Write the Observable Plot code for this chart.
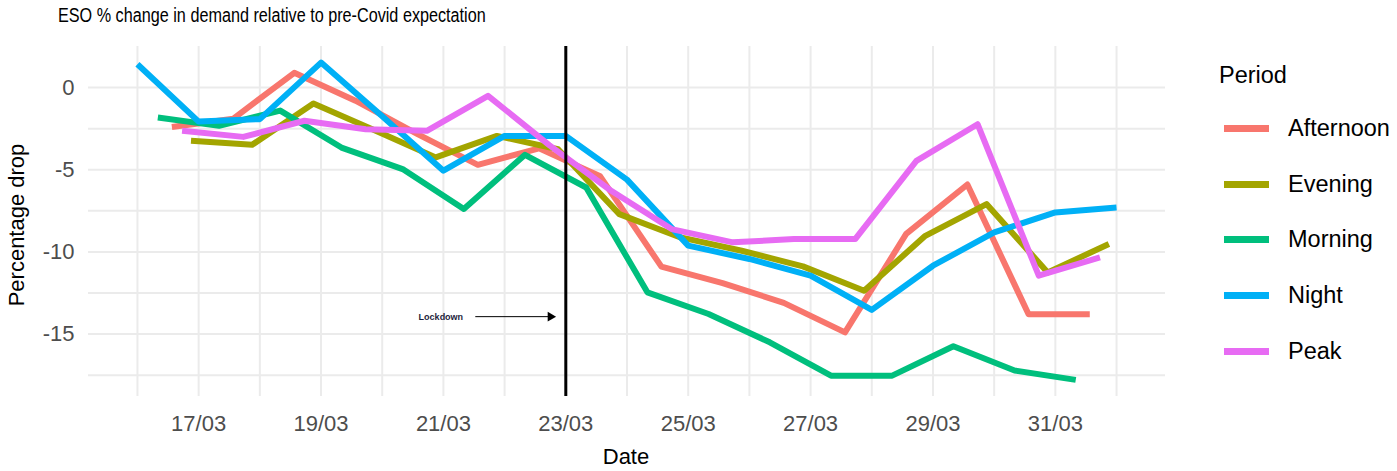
<!DOCTYPE html>
<html><head><meta charset="utf-8">
<script src="https://cdn.jsdelivr.net/npm/d3@7"></script>
<script src="https://cdn.jsdelivr.net/npm/@observablehq/plot@0.6"></script>
<style>
body{margin:0;background:#fff;font-family:"Liberation Sans",Arial,sans-serif;}
#wrap{position:relative;width:1397px;height:471px;overflow:hidden;background:#fff}
#title{height:34px;line-height:31px;padding-left:58px;font-size:20px;color:#000;white-space:nowrap;transform:scaleX(0.81);transform-origin:58px 0}
#chart svg{display:block}
.abs{position:absolute;white-space:nowrap;color:#000}
#xlab{left:526px;width:200px;top:444px;line-height:26px;text-align:center;font-size:22px}
#ylab{left:-133px;width:300px;top:212px;line-height:26px;text-align:center;font-size:22px;transform:rotate(-90deg)}
.lg{position:absolute;font-size:23.5px;line-height:28px;color:#000}
.key{position:absolute;height:7px;width:45px}
</style></head><body>
<div id="wrap">
<div id="title">ESO % change in demand relative to pre-Covid expectation</div>
<div id="chart"></div>
<div id="xlab" class="abs">Date</div>
<div id="ylab" class="abs">Percentage drop</div>
<div id="legend"></div>
</div>
<script>
// ---- data ----
const dayLabels = ["2020-03-16","2020-03-17","2020-03-18","2020-03-19","2020-03-20","2020-03-21","2020-03-22","2020-03-23","2020-03-24","2020-03-25","2020-03-26","2020-03-27","2020-03-28","2020-03-29","2020-03-30","2020-03-31","2020-04-01"];
const periods = ["Afternoon","Evening","Morning","Night","Peak"];
const periodHour = [13.5, 21, 8, 0, 17.5];
const colors = ["#F8766D","#A3A500","#00BF7D","#00B0F6","#E76BF3"];
const afternoon = [-2.4,-1.9,0.9,-0.8,-2.8,-4.7,-3.7,-5.4,-10.9,-11.9,-13.1,-14.9,-8.9,-5.9,-13.8,-13.8];
const evening   = [-3.24,-3.48,-0.97,-2.6,-4.25,-2.94,-3.75,-7.7,-9.12,-9.93,-10.88,-12.36,-9.02,-7.09,-11.25,-9.52];
const morning   = [-1.82,-2.33,-1.4,-3.65,-4.96,-7.39,-4.09,-6.08,-12.46,-13.78,-15.5,-17.53,-17.53,-15.74,-17.22,-17.79];
const night     = [1.42,-2.07,-1.92,1.52,-1.75,-5.06,-2.94,-2.94,-5.6,-9.62,-10.43,-11.45,-13.53,-10.84,-8.81,-7.6,-7.3];
const peak      = [-2.63,-3.0,-2.02,-2.53,-2.63,-0.5,-3.5,-6.25,-8.61,-9.42,-9.22,-9.22,-4.46,-2.23,-11.45,-10.33];
const xTickLabels = ["2020-03-17","2020-03-19","2020-03-21","2020-03-23","2020-03-25","2020-03-27","2020-03-29","2020-03-31"];
const yTicks = [-15,-10,-5,0];
const yGridMinor = [-17.5,-12.5,-7.5,-2.5];
const lockdownDate = "2020-03-23";
const annotLabel = "Lockdown";
const annotY = -13.94;
const annotTextDate = "2020-03-20T23:00Z";
const arrowFrom = "2020-03-21T12:30Z";
const arrowTo = "2020-03-22T18:00Z";
const xDomain = ["2020-03-15T04:48Z","2020-04-01T19:12Z"];
const yDomain = [-18.8, 2.5];

// ---- build table ----
const seriesValues = [afternoon, evening, morning, night, peak];
const parse = s => new Date(s.length <= 10 ? s + "T00:00Z" : s);
const rows = [];
periods.forEach((p, i) => {
  seriesValues[i].forEach((v, j) => {
    const d = parse(dayLabels[j]);
    rows.push({period: p, date: new Date(+d + periodHour[i] * 3600e3), value: v});
  });
});
const gridDays = dayLabels.map(parse);
const tickDates = xTickLabels.map(parse);

const chart = Plot.plot({
  width: 1397, height: 437,
  marginTop: 12, marginBottom: 75, marginLeft: 88, marginRight: 232,
  style: {fontFamily: "'Liberation Sans', Arial, sans-serif", fontSize: "22px", color: "#4d4d4d", background: "#fff"},
  x: {type: "utc", domain: xDomain.map(parse), ticks: tickDates, tickFormat: d3.utcFormat("%d/%m"), tickSize: 0, tickPadding: 19, label: null},
  y: {domain: yDomain, ticks: yTicks, tickFormat: d => String(d), tickSize: 0, tickPadding: 14, label: null},
  color: {domain: periods, range: colors},
  marks: [
    Plot.gridX(gridDays, {stroke: "#ebebeb", strokeOpacity: 1, strokeWidth: 2}),
    Plot.gridY(yTicks.concat(yGridMinor), {stroke: "#ebebeb", strokeOpacity: 1, strokeWidth: 2}),
    Plot.line(rows, {x: "date", y: "value", z: "period", stroke: "period", strokeWidth: 6, strokeLinejoin: "round", strokeLinecap: "butt"}),
    Plot.ruleX([parse(lockdownDate)], {stroke: "#000", strokeWidth: 3}),
    Plot.text([{d: parse(annotTextDate), v: annotY, t: annotLabel}], {x: "d", y: "v", text: "t", fontSize: 9, fontWeight: "bold", fill: "#1e1e3c"}),
    Plot.link([{a: parse(arrowFrom), b: parse(arrowTo), v: annotY}], {x1: "a", x2: "b", y1: "v", y2: "v", stroke: "#000", strokeWidth: 1}),
    Plot.dot([{b: parse(arrowTo), v: annotY}], {x: "b", y: "v", symbol: "triangle", rotate: 90, r: 3.6, fill: "#000", stroke: "none"})
  ]
});
document.getElementById("chart").appendChild(chart);

// ---- legend ----
const lg = document.getElementById("legend");
const t = document.createElement("div");
t.className = "lg"; t.style.left = "1219px"; t.style.top = "61px"; t.textContent = "Period";
lg.appendChild(t);
const keyY = [128, 184, 239, 295, 351];
periods.forEach((p, i) => {
  const k = document.createElement("div");
  k.className = "key"; k.style.left = "1224px"; k.style.top = (keyY[i] - 3.5) + "px"; k.style.background = colors[i];
  lg.appendChild(k);
  const l = document.createElement("div");
  l.className = "lg"; l.style.left = "1288px"; l.style.top = (keyY[i] - 14) + "px"; l.textContent = p;
  lg.appendChild(l);
});
</script>
</body></html>
